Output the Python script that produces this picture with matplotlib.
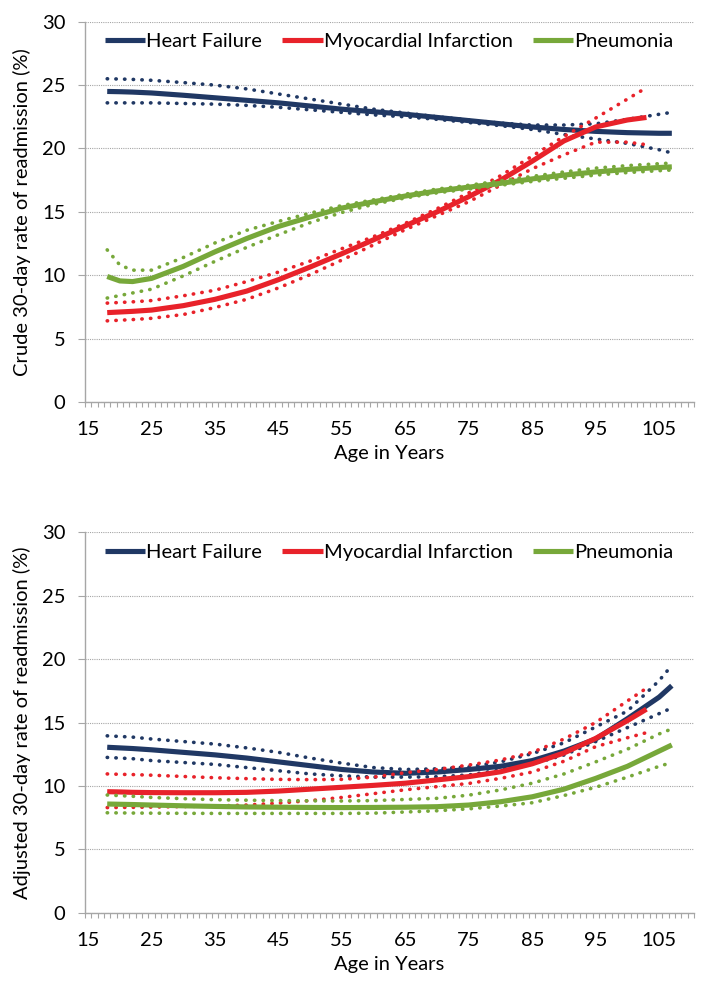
import matplotlib
matplotlib.use("Agg")
import matplotlib.pyplot as plt
from matplotlib.ticker import MultipleLocator, FixedLocator

plt.rcParams["font.family"] = ["Lato", "DejaVu Sans"]

AGES = [18, 20, 22, 25, 30, 35, 40, 45, 50, 55, 60, 65, 70, 75, 80, 85, 90, 95, 100, 105, 107]
AGES_MI = [18, 20, 22, 25, 30, 35, 40, 45, 50, 55, 60, 65, 70, 75, 80, 85, 90, 95, 100, 103]

# crude rates (top panel)
HF_CRUDE = [24.5, 24.48, 24.45, 24.38, 24.2, 24.0, 23.8, 23.6, 23.35, 23.1, 22.9, 22.7, 22.45, 22.2, 21.95, 21.7, 21.5, 21.35, 21.25, 21.2, 21.2]
HF_CRUDE_HI = [25.5, 25.48, 25.45, 25.38, 25.2, 25.0, 24.7, 24.3, 23.9, 23.5, 23.1, 22.8, 22.5, 22.25, 22.0, 21.85, 21.85, 21.95, 22.3, 22.7, 22.85]
HF_CRUDE_LO = [23.6, 23.6, 23.6, 23.6, 23.55, 23.5, 23.4, 23.25, 23.05, 22.85, 22.65, 22.5, 22.3, 22.05, 21.8, 21.5, 21.1, 20.75, 20.4, 19.9, 19.65]
MI_CRUDE = [7.05, 7.1, 7.15, 7.25, 7.6, 8.1, 8.75, 9.65, 10.65, 11.7, 12.8, 13.9, 15.0, 16.2, 17.5, 19.0, 20.6, 21.7, 22.25, 22.45]
MI_CRUDE_HI = [7.8, 7.85, 7.9, 8.0, 8.38, 8.82, 9.5, 10.25, 11.12, 12.1, 13.05, 14.1, 15.25, 16.5, 17.85, 19.4, 20.95, 22.4, 23.9, 24.8]
MI_CRUDE_LO = [6.4, 6.45, 6.5, 6.6, 6.9, 7.45, 8.1, 9.0, 10.05, 11.2, 12.4, 13.6, 14.7, 15.8, 17.1, 18.4, 19.5, 20.5, 20.5, 20.3]
PN_CRUDE = [9.9, 9.55, 9.5, 9.75, 10.7, 11.85, 12.9, 13.85, 14.6, 15.3, 15.8, 16.25, 16.65, 16.95, 17.25, 17.6, 17.9, 18.15, 18.35, 18.5, 18.55]
PN_CRUDE_HI = [12.0, 10.8, 10.4, 10.4, 11.4, 12.55, 13.55, 14.25, 14.9, 15.5, 15.95, 16.4, 16.8, 17.1, 17.45, 17.8, 18.15, 18.45, 18.65, 18.8, 18.85]
PN_CRUDE_LO = [8.2, 8.4, 8.6, 8.9, 9.95, 11.1, 12.2, 13.2, 14.15, 14.95, 15.6, 16.1, 16.5, 16.8, 17.1, 17.4, 17.65, 17.9, 18.1, 18.25, 18.3]

# adjusted rates (bottom panel)
HF_ADJ = [13.05, 13.0, 12.95, 12.85, 12.65, 12.45, 12.2, 11.9, 11.6, 11.3, 11.1, 11.0, 11.1, 11.3, 11.55, 12.0, 12.75, 13.7, 15.3, 17.0, 17.9]
HF_ADJ_HI = [13.95, 13.9, 13.85, 13.7, 13.5, 13.3, 13.0, 12.65, 12.2, 11.8, 11.45, 11.3, 11.35, 11.5, 11.9, 12.55, 13.4, 14.65, 15.9, 18.3, 19.5]
HF_ADJ_LO = [12.25, 12.2, 12.15, 12.0, 11.85, 11.7, 11.45, 11.2, 10.95, 10.8, 10.7, 10.7, 10.73, 10.87, 11.26, 11.73, 12.44, 13.5, 14.6, 15.7, 16.15]
MI_ADJ = [9.55, 9.53, 9.5, 9.48, 9.47, 9.47, 9.5, 9.6, 9.75, 9.9, 10.05, 10.22, 10.48, 10.74, 11.12, 11.75, 12.6, 13.75, 15.15, 16.05]
MI_ADJ_HI = [10.95, 10.92, 10.9, 10.85, 10.75, 10.65, 10.58, 10.52, 10.5, 10.52, 10.7, 11.05, 11.3, 11.65, 12.05, 12.65, 13.7, 15.0, 16.7, 17.7]
MI_ADJ_LO = [8.3, 8.31, 8.32, 8.34, 8.38, 8.42, 8.5, 8.65, 8.85, 9.1, 9.4, 9.7, 9.95, 10.2, 10.6, 11.1, 11.95, 13.1, 13.8, 14.2]
PN_ADJ = [8.58, 8.56, 8.54, 8.5, 8.44, 8.39, 8.35, 8.33, 8.31, 8.3, 8.31, 8.33, 8.37, 8.5, 8.76, 9.15, 9.75, 10.6, 11.55, 12.75, 13.23]
PN_ADJ_HI = [9.29, 9.24, 9.19, 9.1, 9.0, 8.92, 8.88, 8.85, 8.83, 8.82, 8.85, 8.94, 9.03, 9.28, 9.69, 10.22, 10.95, 11.9, 12.9, 14.1, 14.5]
PN_ADJ_LO = [7.89, 7.88, 7.87, 7.86, 7.85, 7.84, 7.84, 7.84, 7.84, 7.84, 7.86, 7.95, 8.05, 8.2, 8.42, 8.68, 9.25, 9.9, 10.7, 11.55, 11.85]

NAMES = ["Heart Failure", "Myocardial Infarction", "Pneumonia"]
COLORS = ["#203864", "#E8222A", "#77A83A"]
XTICKS = [15, 25, 35, 45, 55, 65, 75, 85, 95, 105]
YTICKS = [0, 5, 10, 15, 20, 25, 30]

GREY = "#A6A6A6"
DOTS = (0, (0.1, 2.3))


def draw_panel(ax, series, ylabel):
    for (x, mid, hi, lo), name, col in zip(series, NAMES, COLORS):
        ax.plot(x, hi, color=col, lw=2.6, ls=DOTS, dash_capstyle="round")
        ax.plot(x, lo, color=col, lw=2.6, ls=DOTS, dash_capstyle="round")
        ax.plot(x, mid, color=col, lw=3.7, solid_capstyle="butt", label=name)

    ax.set_xlim(14.5, 110.5)
    ax.set_ylim(0, 30)
    ax.xaxis.set_major_locator(FixedLocator(XTICKS))
    ax.xaxis.set_minor_locator(MultipleLocator(1, offset=0.5))
    ax.yaxis.set_major_locator(FixedLocator(YTICKS))
    ax.tick_params(axis="x", which="major", length=0, pad=14, labelsize=14.5)
    ax.tick_params(axis="x", which="minor", length=3.8, width=0.8, color=GREY)
    ax.tick_params(axis="y", which="major", length=5, width=0.8, color=GREY, pad=9, labelsize=14.5)

    ax.grid(axis="y", color=GREY, lw=0.8, ls=(0, (1, 1)))
    ax.set_axisbelow(True)
    for s in ["top", "right"]:
        ax.spines[s].set_visible(False)
    for s in ["left", "bottom"]:
        ax.spines[s].set_color(GREY)
        ax.spines[s].set_linewidth(1.0)

    ax.set_xlabel("Age in Years", fontsize=14.5, labelpad=5)
    ax.set_ylabel(ylabel, fontsize=14.5)
    ax.yaxis.set_label_coords(-0.088, 0.5)

    ax.legend(loc="center left", bbox_to_anchor=(0.033, 0.947), frameon=False,
              ncol=3, fontsize=14.5, handlelength=2.0, handletextpad=0.05,
              columnspacing=1.0, borderpad=0, borderaxespad=0)


fig = plt.figure(figsize=(7.21, 9.93), dpi=100)
ax1 = fig.add_axes([0.1179, 0.5952, 0.8447, 0.3829])
ax2 = fig.add_axes([0.1179, 0.0806, 0.8447, 0.3836])

draw_panel(ax1, [
    (AGES, HF_CRUDE, HF_CRUDE_HI, HF_CRUDE_LO),
    (AGES_MI, MI_CRUDE, MI_CRUDE_HI, MI_CRUDE_LO),
    (AGES, PN_CRUDE, PN_CRUDE_HI, PN_CRUDE_LO),
], "Crude 30-day rate of readmission (%)")

draw_panel(ax2, [
    (AGES, HF_ADJ, HF_ADJ_HI, HF_ADJ_LO),
    (AGES_MI, MI_ADJ, MI_ADJ_HI, MI_ADJ_LO),
    (AGES, PN_ADJ, PN_ADJ_HI, PN_ADJ_LO),
], "Adjusted 30-day rate of readmission (%)")

fig.savefig("out.png", dpi=100)
